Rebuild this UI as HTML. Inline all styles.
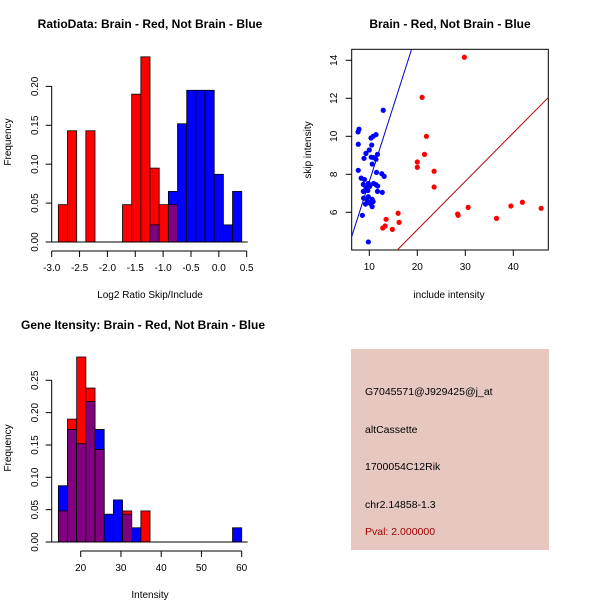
<!DOCTYPE html>
<html><head><meta charset="utf-8"><style>
body{margin:0;background:#fff}
svg{display:block;font-family:"Liberation Sans",sans-serif}
</style></head><body>
<svg id="c" width="600" height="600" viewBox="0 0 600 600">
<text x="150" y="28" font-size="12" font-weight="bold" text-anchor="middle">RatioData: Brain - Red, Not Brain - Blue</text>
<text x="450" y="28" font-size="12" font-weight="bold" text-anchor="middle">Brain - Red, Not Brain - Blue</text>
<text x="143" y="329" font-size="12" font-weight="bold" text-anchor="middle">Gene Itensity: Brain - Red, Not Brain - Blue</text>
<text x="150" y="298" font-size="10" text-anchor="middle">Log2 Ratio Skip/Include</text>
<text x="11" y="142" font-size="10" text-anchor="middle" transform="rotate(-90 11 142)">Frequency</text>
<text x="449" y="298" font-size="10" text-anchor="middle">include intensity</text>
<text x="311" y="150" font-size="10" text-anchor="middle" transform="rotate(-90 311 150)">skip intensity</text>
<text x="150" y="598" font-size="10" text-anchor="middle">Intensity</text>
<text x="11" y="448" font-size="10" text-anchor="middle" transform="rotate(-90 11 448)">Frequency</text>
<g>
<rect x="351" y="349" width="198" height="201" fill="#e6c8c1"/>
<text x="365" y="395" font-size="10.5">G7045571@J929425@j_at</text>
<text x="365" y="433" font-size="10.5">altCassette</text>
<text x="365" y="470" font-size="10.5">1700054C12Rik</text>
<text x="365" y="508" font-size="10.5">chr2.14858-1.3</text>
<text x="365" y="535" font-size="10.5" fill="#a00000">Pval: 2.000000</text>
</g>
</svg>
<script>
// Ratio histogram data (20 bins starting at -2.88, width 0.1646)
const ratioRed=[0.048,0.143,0,0.143,0,0,0,0.048,0.19,0.238,0.095,0.048,0.048,0,0,0,0,0,0,0];
const ratioBlue=[0,0,0,0,0,0,0,0,0,0,0.022,0,0.065,0.152,0.195,0.195,0.195,0.087,0.022,0.065];
const ratioXTicks=["-3.0","-2.5","-2.0","-1.5","-1.0","-0.5","0.0","0.5"];
const ratioYTicks=["0.00","0.05","0.10","0.15","0.20"];
// Intensity histogram data (20 bins starting at 14.45, width 2.275)
const intRed=[0.048,0.19,0.286,0.238,0.143,0,0,0.048,0,0.048,0,0,0,0,0,0,0,0,0,0];
const intBlue=[0.087,0.174,0.152,0.217,0.174,0.043,0.065,0.043,0.022,0,0,0,0,0,0,0,0,0,0,0.022];
const intXTicks=["20","30","40","50","60"];
const intYTicks=["0.00","0.05","0.10","0.15","0.20","0.25"];
// Scatter data
const redX=[29.8,21.0,21.9,21.5,20.0,20.0,23.5,23.5,30.6,28.4,28.5,36.5,39.5,41.9,45.8,16.0,16.2,13.5,12.8,13.3,14.8];
const redY=[14.16,12.05,10.0,9.05,8.65,8.37,8.16,7.33,6.26,5.91,5.84,5.68,6.33,6.53,6.21,5.95,5.47,5.63,5.17,5.28,5.1];
const blueX=[12.9,7.85,7.65,7.7,11.4,10.8,10.35,10.5,10.0,9.3,11.7,8.9,10.9,10.4,11.4,10.6,7.7,11.5,12.6,13.1,8.3,9.0,8.75,9.8,10.9,11.4,11.75,10.1,9.3,11.7,12.7,8.75,9.7,8.8,9.8,10.6,10.8,9.95,9.2,10.3,10.6,9.45,8.55,9.8];
const blueY=[11.37,10.37,10.23,9.58,10.09,10.0,9.91,9.54,9.28,9.1,9.05,8.84,8.88,8.9,8.79,8.54,8.21,8.1,8.03,7.89,7.8,7.73,7.47,7.52,7.52,7.45,7.38,7.36,7.3,7.1,7.05,7.1,7.14,6.75,6.82,6.68,6.56,6.52,6.43,6.45,6.3,6.68,5.84,4.44];
const scXTicks=[10,20,30,40];
const scYTicks=[6,8,10,12,14];
const blueLine=[0.79,-0.28]; // slope, intercept
const redLine=[0.255,-0.02];

const NS="http://www.w3.org/2000/svg";
const svg=document.getElementById('c');
function mk(tag,attrs,parent){const e=document.createElementNS(NS,tag);for(const k in attrs)e.setAttribute(k,attrs[k]);(parent||svg).appendChild(e);return e;}

function hist(red,blue,x0,bw,xs,ys,baseY,xTickVals,xTickLbl,yTickLbl,yStep,name){
  const g=mk('g',{});
  
  
  for(let i=0;i<red.length;i++){
    const r=red[i],b=blue[i];
    const xa=xs(x0+i*bw),xb=xs(x0+(i+1)*bw);
    const mx=Math.max(r,b),mn=Math.min(r,b);
    if(mx>0){
      const e=mk('rect',{x:xa,y:ys(mx),width:xb-xa,height:ys(0)-ys(mx),fill:r>=b?'#ff0000':'#0000ff',stroke:'#000','stroke-width':0.8},g);
      
      
    }
    if(mn>0){
      const e=mk('rect',{x:xa,y:ys(mn),width:xb-xa,height:ys(0)-ys(mn),fill:'#800080',stroke:'#000','stroke-width':0.8},g);
      
      
    }
  }
  const ax0=xs(x0),ax1=xs(x0+red.length*bw);
  mk('line',{x1:51.7,x2:ax1+6,y1:ys(0),y2:ys(0),stroke:'#000'},g);
  // x axis
  const xa=mk('g',{},g);
  
  
  const t0=xs(xTickVals[0]),t1=xs(xTickVals[xTickVals.length-1]);
  mk('line',{x1:t0,x2:t1,y1:baseY,y2:baseY,stroke:'#000'},xa);
  xTickVals.forEach((v,i)=>{const x=xs(v);mk('line',{x1:x,x2:x,y1:baseY,y2:baseY+6,stroke:'#000'},xa);
    const t=mk('text',{x:x,y:baseY+20,'font-size':10,'text-anchor':'middle'},xa);t.textContent=xTickLbl[i];});
  // y axis
  const ya=mk('g',{},g);
  
  
  const top=ys((yTickLbl.length-1)*yStep);
  mk('line',{x1:51.7,x2:51.7,y1:top,y2:ys(0),stroke:'#000'},ya);
  yTickLbl.forEach((l,i)=>{const y=ys(i*yStep);mk('line',{x1:45.7,x2:51.7,y1:y,y2:y,stroke:'#000'},ya);
    const t=mk('text',{x:38,y:y,'font-size':10,'text-anchor':'middle',transform:`rotate(-90 38 ${y})`},ya);t.textContent=l;});
}
// ratio hist
const rxs=v=>51.7+(v+3)*55.71, rys=v=>242-v*778;
hist(ratioRed,ratioBlue,-2.881,0.1646,rxs,rys,251,[-3,-2.5,-2,-1.5,-1,-0.5,0,0.5],ratioXTicks,ratioYTicks,0.05,'ratio-histogram');
// intensity hist
const ixs=v=>80.7+(v-20)*4.025, iys=v=>542-v*646.8;
hist(intRed,intBlue,14.45,2.2776,ixs,iys,551,[20,30,40,50,60],intXTicks,intYTicks,0.05,'intensity-histogram');

// scatter
const sxs=v=>321.3+v*4.8, sys=v=>326.3-v*19;
const sg=mk('g',{});


const cp=mk('clipPath',{id:'scclip'},sg);mk('rect',{x:351.7,y:49.3,width:196.6,height:200.7},cp);
const fr=mk('rect',{x:351.7,y:49.3,width:196.6,height:200.7,fill:'none',stroke:'#000'},sg);


const xmin=(351.7-321.3)/4.8,xmax=(548.3-321.3)/4.8;
[[blueLine,'#0000cc','blue-fit-line'],[redLine,'#b00000','red-fit-line']].forEach(([L,c,n])=>{
  const l=mk('line',{x1:sxs(xmin),y1:sys(L[0]*xmin+L[1]),x2:sxs(xmax),y2:sys(L[0]*xmax+L[1]),stroke:c,'clip-path':'url(#scclip)'},sg);
  
  
});
blueX.forEach((x,i)=>{const c=mk('circle',{cx:sxs(x),cy:sys(blueY[i]),r:2.6,fill:'#0000ff'},sg);
  
  });
redX.forEach((x,i)=>{const c=mk('circle',{cx:sxs(x),cy:sys(redY[i]),r:2.6,fill:'#ff0000'},sg);
  
  });
scXTicks.forEach(v=>{const x=sxs(v);mk('line',{x1:x,x2:x,y1:250,y2:256,stroke:'#000'},sg);
  const t=mk('text',{x:x,y:270,'font-size':10,'text-anchor':'middle'},sg);t.textContent=v;});
scYTicks.forEach(v=>{const y=sys(v);mk('line',{x1:345.7,x2:351.7,y1:y,y2:y,stroke:'#000'},sg);
  const t=mk('text',{x:337,y:y,'font-size':10,'text-anchor':'middle',transform:`rotate(-90 337 ${y})`},sg);t.textContent=v;});
</script>
</body></html>
